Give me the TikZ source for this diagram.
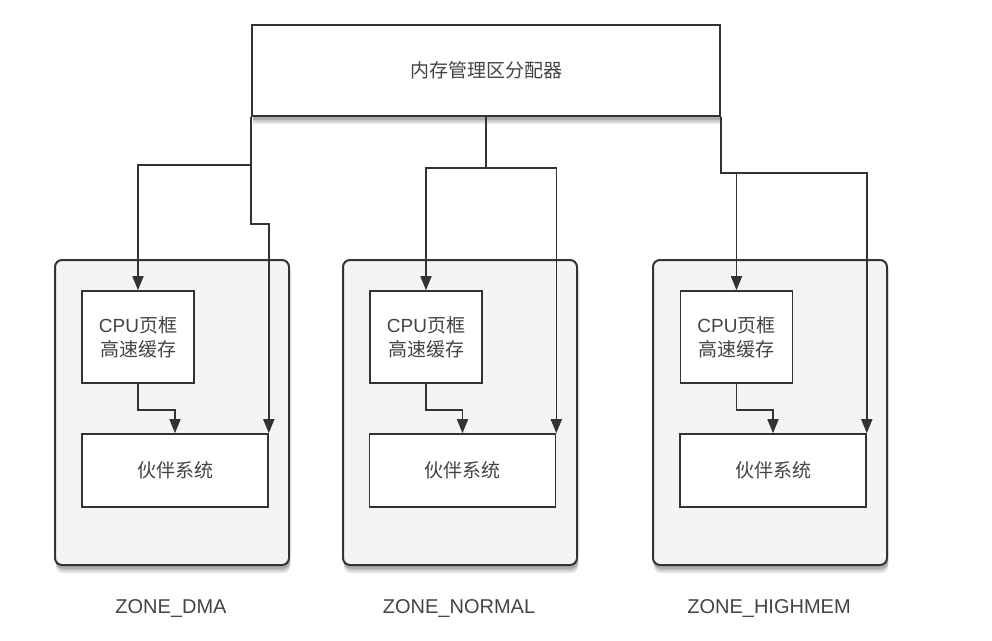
\documentclass[tikz,border=0pt]{standalone}
\usepackage{fontspec}
\setmainfont{Liberation Sans}
\newfontfamily\cjk{Noto Sans CJK SC}
\usetikzlibrary{arrows.meta}
\definecolor{linec}{HTML}{333333}
\definecolor{txtc}{HTML}{444444}
\definecolor{zonefill}{HTML}{F4F4F4}
\tikzset{
  sh/.style 2 args={preaction={draw=none, fill=black!#1, transform canvas={xshift=1pt, yshift=-#2pt}}},
  shadowed/.style={sh={10}{8}, sh={20}{6}, sh={32}{4}},
  box/.style={draw=linec, line width=1.6pt, fill=white, inner sep=0pt, text=txtc},
  zonebox/.style={shadowed, draw=linec, line width=2pt, fill=zonefill, rounded corners=7pt, inner sep=0pt},
  arr/.style={draw=linec, line width=1.6pt, -{Triangle[length=14pt,width=11pt]}},
  zlabel/.style={text=txtc, font=\fontsize{20}{24}\selectfont},
  ctext/.style={font=\fontsize{19}{24}\selectfont\cjk, align=center},
}
\begin{document}
\begin{tikzpicture}[x=1pt,y=-1pt]
\useasboundingbox (0,0) rectangle (992,640);
\fill[white] (0,0) rectangle (992,640);

% containers
\node[zonebox, minimum width=234pt, minimum height=305pt] (z1) at (172,412.5) {};
\node[zonebox, minimum width=234pt, minimum height=305pt] (z2) at (460,412.5) {};
\node[zonebox, minimum width=234pt, minimum height=305pt] (z3) at (770,412.5) {};

% top box
\node[box, shadowed, minimum width=468pt, minimum height=91pt, ctext] (top) at (486,70.5) {内存管理区分配器};

% inner boxes
\node[box, minimum width=112pt, minimum height=92pt, ctext] (cpu1) at (138,337) {{\fontspec{Liberation Sans}CPU}页框\\高速缓存};
\node[box, minimum width=186pt, minimum height=73pt, ctext] (bud1) at (175,470.5) {伙伴系统};
\node[box, minimum width=112pt, minimum height=92pt, ctext] (cpu2) at (426,337) {{\fontspec{Liberation Sans}CPU}页框\\高速缓存};
\node[box, minimum width=186pt, minimum height=73pt, ctext] (bud2) at (462.5,470.5) {伙伴系统};
\node[box, minimum width=112pt, minimum height=92pt, ctext] (cpu3) at (736.5,337) {{\fontspec{Liberation Sans}CPU}页框\\高速缓存};
\node[box, minimum width=186pt, minimum height=73pt, ctext] (bud3) at (773,470.5) {伙伴系统};

% connectors
\draw[arr] (top.south west) -- ++(0,48) -| (cpu1.north);
\draw[arr] (top.south west) -- ++(0,107) -| (bud1.north east);
\draw[arr] (top.south) -- ++(0,51) -| (cpu2.north);
\draw[arr] (top.south) -- ++(0,51) -| (bud2.north east);
\draw[arr] (top.south east) -- ++(0,56) -| (cpu3.north);
\draw[arr] (top.south east) -- ++(0,56) -| (bud3.north east);
\draw[arr] (cpu1.south) -- ++(0,26) -| (bud1.north);
\draw[arr] (cpu2.south) -- ++(0,26) -| (bud2.north);
\draw[arr] (cpu3.south) -- ++(0,26) -| (bud3.north);

% labels
\node[zlabel] (l1) at (171,608) {ZONE\_DMA};
\node[zlabel] (l2) at (459,608) {ZONE\_NORMAL};
\node[zlabel] (l3) at (769,608) {ZONE\_HIGHMEM};
\end{tikzpicture}
\end{document}
